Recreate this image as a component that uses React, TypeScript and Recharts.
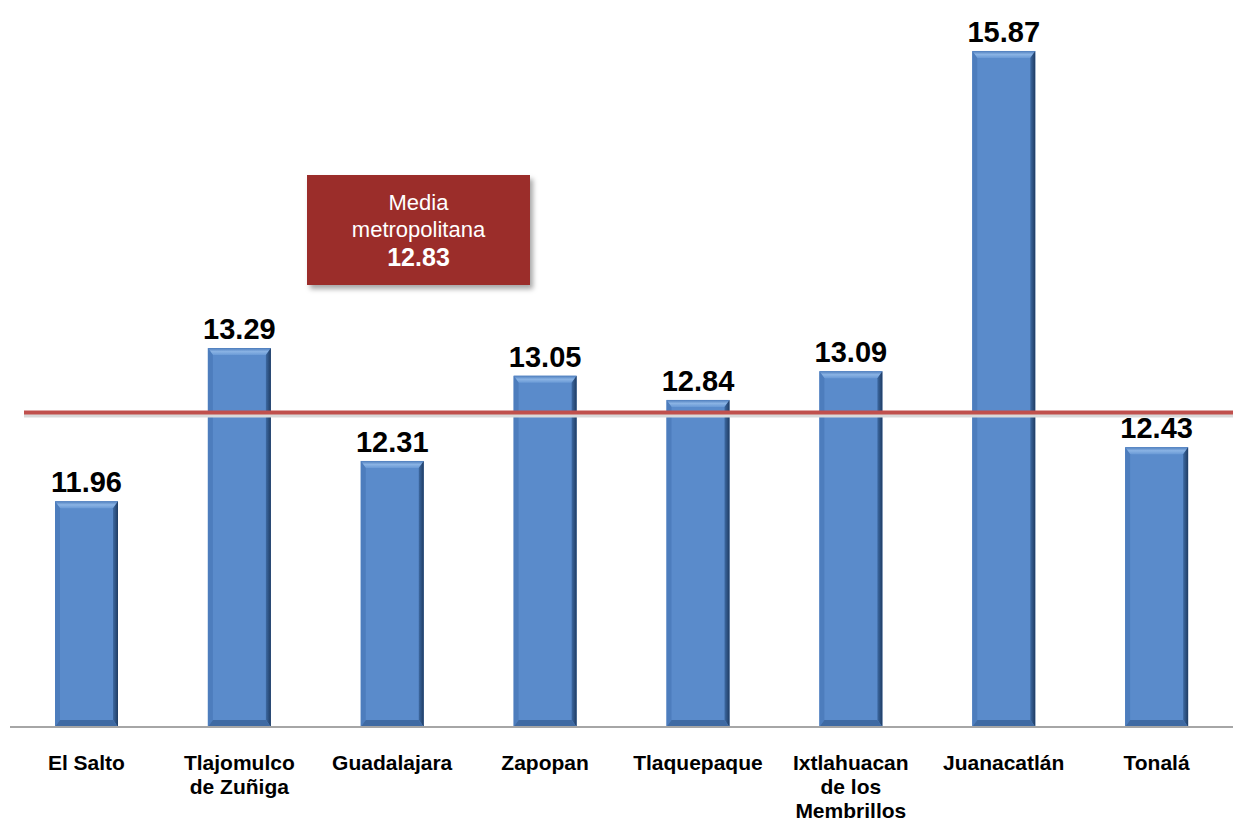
import React from 'react';
import {
  BarChart,
  Bar,
  XAxis,
  YAxis,
  ReferenceLine,
  LabelList,
} from 'recharts';

// Municipios del área metropolitana
const MUNICIPIOS = [
  'El Salto',
  'Tlajomulco\nde Zuñiga',
  'Guadalajara',
  'Zapopan',
  'Tlaquepaque',
  'Ixtlahuacan\nde los\nMembrillos',
  'Juanacatlán',
  'Tonalá',
];

const VALORES = [11.96, 13.29, 12.31, 13.05, 12.84, 13.09, 15.87, 12.43];

// media metropolitana (valor mostrado en el recuadro)
const MEDIA = 12.83;
// posición donde está dibujada la línea en el original
const MEDIA_LINEA = 12.73;

const Y_DOMAIN = [10, 16];

const data = MUNICIPIOS.map((m, i) => ({ name: m, valor: VALORES[i] }));

const FONT = '"Liberation Sans", Arial, sans-serif';

function BevelBar(props: any) {
  const { x, y, width, height } = props;
  if (!height || height <= 0) return null;
  const b = 7;
  const s = 5;
  return (
    <g>
      <rect x={x} y={y} width={width} height={height} fill="#5a8bcb" />
      {/* top bevel */}
      <polygon
        points={`${x},${y} ${x + width},${y} ${x + width - s},${y + b} ${x + s},${y + b}`}
        fill="url(#bevelTop)"
      />
      {/* left bevel */}
      <polygon
        points={`${x},${y} ${x + s},${y + b} ${x + s},${y + height - b} ${x},${y + height}`}
        fill="#4d7dbd"
      />
      {/* right bevel */}
      <polygon
        points={`${x + width},${y} ${x + width - s},${y + b} ${x + width - s},${y + height - b} ${x + width},${y + height}`}
        fill="url(#bevelRight)"
      />
      {/* bottom bevel */}
      <polygon
        points={`${x},${y + height} ${x + s},${y + height - b} ${x + width - s},${y + height - b} ${x + width},${y + height}`}
        fill="#3f6aa3"
      />
    </g>
  );
}

function CategoryTick(props: any) {
  const { x, y, payload } = props;
  const lines = String(payload.value).split('\n');
  return (
    <text
      x={x}
      y={y}
      textAnchor="middle"
      fill="#000"
      fontFamily={FONT}
      fontWeight="bold"
      fontSize={21}
    >
      {lines.map((l, i) => (
        <tspan key={i} x={x} y={y + 43 + i * 24}>
          {l}
        </tspan>
      ))}
    </text>
  );
}

function MediaLine(props: any) {
  const { x1, y1, x2, y2 } = props;
  return (
    <g>
      <line x1={x1 + 14} y1={y1 + 3} x2={x2} y2={y2 + 3} stroke="#d9d9d9" strokeWidth={4} />
      <line x1={x1 + 14} y1={y1} x2={x2} y2={y2} stroke="#c0504d" strokeWidth={4} />
    </g>
  );
}

export default function App() {
  return (
    <div style={{ position: 'absolute', left: 0, top: 0, width: 1233, height: 822, background: '#fff', overflow: 'hidden' }}>
      <BarChart
        width={1233}
        height={822}
        data={data}
        margin={{ top: 36, right: 0, bottom: 0, left: 10 }}
      >
        <defs>
          <linearGradient id="bevelTop" x1="0" y1="0" x2="0" y2="1">
            <stop offset="0%" stopColor="#4c7cbc" />
            <stop offset="50%" stopColor="#8ab3e4" />
            <stop offset="100%" stopColor="#6a9ad6" />
          </linearGradient>
          <linearGradient id="bevelRight" x1="0" y1="0" x2="1" y2="0">
            <stop offset="0%" stopColor="#3d69a2" />
            <stop offset="100%" stopColor="#1f3c63" />
          </linearGradient>
        </defs>
        <XAxis
          dataKey="name"
          interval={0}
          height={95}
          tickLine={false}
          tickSize={0}
          tickMargin={0}
          axisLine={{ stroke: '#a6a6a6', strokeWidth: 2 }}
          tick={<CategoryTick />}
        />
        <YAxis hide domain={Y_DOMAIN} allowDataOverflow />
        <ReferenceLine y={MEDIA_LINEA} shape={<MediaLine />} />
        <Bar dataKey="valor" barSize={63} shape={<BevelBar />} isAnimationActive={false}>
          <LabelList
            dataKey="valor"
            position="top"
            offset={9}
            formatter={(v: any) => Number(v).toFixed(2)}
            style={{ fill: '#000', fontSize: 29, fontWeight: 'bold', fontFamily: FONT }}
          />
        </Bar>
      </BarChart>
      <div
        style={{
          position: 'absolute',
          left: 307,
          top: 175,
          width: 223,
          height: 110,
          background: '#9b2d2a',
          boxShadow: '3px 4px 5px rgba(0,0,0,0.35)',
          color: '#fff',
          fontFamily: FONT,
          textAlign: 'center',
          boxSizing: 'border-box',
          paddingTop: 14,
          fontSize: 22,
          lineHeight: '27px',
        }}
      >
        <div>Media</div>
        <div>metropolitana</div>
        <div style={{ fontWeight: 'bold', fontSize: 25, lineHeight: '29px' }}>{MEDIA.toFixed(2)}</div>
      </div>
    </div>
  );
}
